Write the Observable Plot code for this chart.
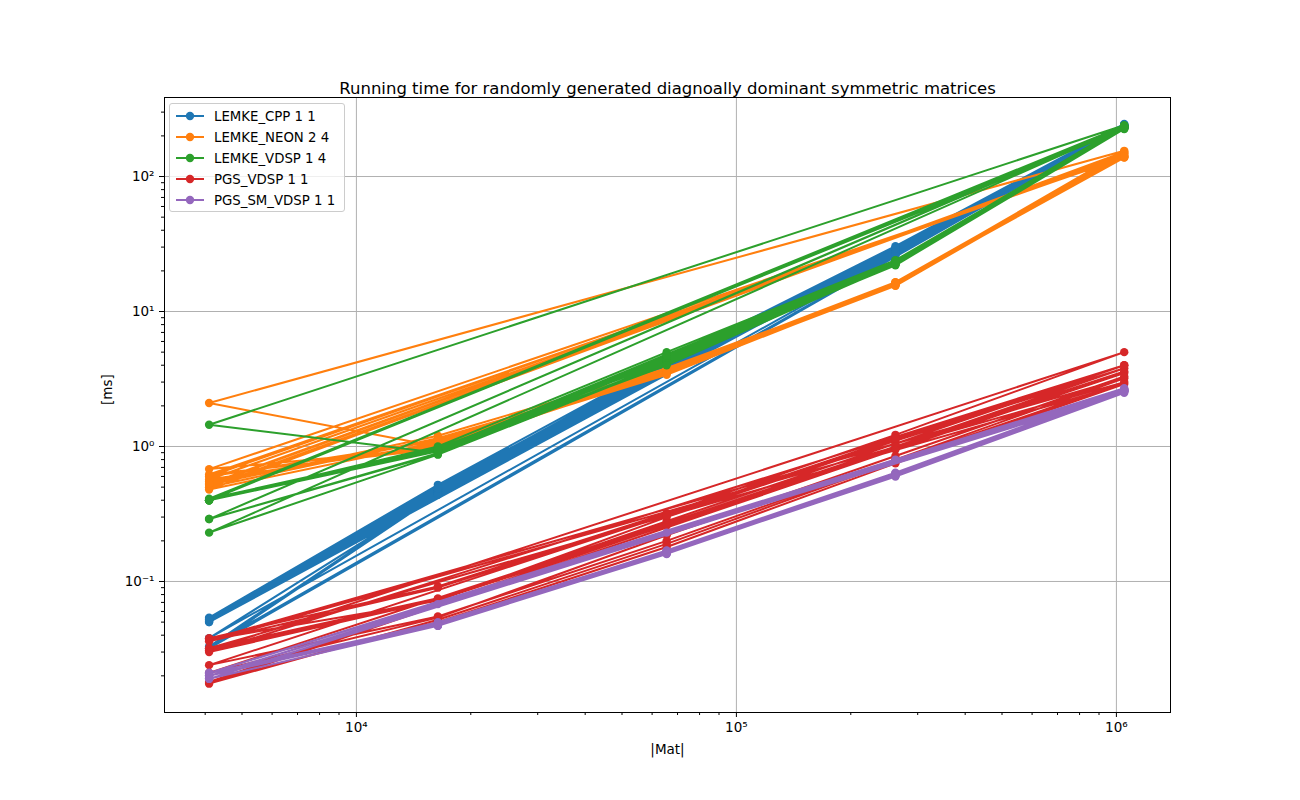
<!DOCTYPE html>
<html>
<head>
<meta charset="utf-8">
<script src="https://cdn.jsdelivr.net/npm/d3@7"></script>
<script src="https://cdn.jsdelivr.net/npm/@observablehq/plot@0.6"></script>
<style>
  html, body { margin: 0; padding: 0; background: white; }
  #wrap { position: relative; width: 1300px; height: 800px; font-family: "DejaVu Sans", sans-serif; }
  #legend { position: absolute; left: 169px; top: 103px; width: 176px; height: 109px; box-sizing: border-box;
            border: 1px solid #cccccc; border-radius: 3px; background: rgba(255,255,255,0.8); }
  .row { position: absolute; left: 0; height: 20px; display: flex; align-items: center; font-size: 13.3px; color: #000; }
  .row svg { margin-left: 6px; margin-right: 10px; }
</style>
</head>
<body>
<div id="wrap"><div id="legend"></div></div>
<script>
const sizes = [4096, 16384, 65536, 262144, 1048576];
const seriesNames = ["LEMKE_CPP 1 1", "LEMKE_NEON 2 4", "LEMKE_VDSP 1 4", "PGS_VDSP 1 1", "PGS_SM_VDSP 1 1"];
const seriesColors = ["#1f77b4", "#ff7f0e", "#2ca02c", "#d62728", "#9467bd"];

// each run: times [ms] at the five sizes (runs are drawn as one continuous polyline per series)
const lemkeCppRuns = [
  [0.054, 0.52, 4.3, 30.5, 245],
  [0.052, 0.48, 4.0, 28.0, 235],
  [0.050, 0.45, 3.8, 27.0, 232],
  [0.051, 0.46, 3.9, 27.5, 238],
  [0.038, 0.44, 3.7, 26.5, 230],
  [0.053, 0.50, 4.1, 29.0, 240],
  [0.033, 0.45, 3.8, 27.0, 233],
  [0.050, 0.47, 4.0, 28.0, 236],
  [0.032, 0.44, 3.6, 26.0, 231],
  [0.052, 0.49, 4.2, 29.5, 242]
];
const lemkeNeonRuns = [
  [0.55, 1.05, 3.6, 16.2, 155],
  [2.10, 1.00, 3.5, 15.8, 142],
  [0.60, 1.10, 3.7, 16.5, 150],
  [0.52, 1.20, 3.8, 16.0, 138],
  [0.68, 0.98, 3.5, 15.5, 145],
  [0.50, 1.15, 3.6, 16.3, 140],
  [0.57, 1.02, 3.4, 15.9, 152],
  [0.48, 1.08, 3.7, 16.1, 139],
  [0.62, 0.96, 3.6, 15.6, 148],
  [0.53, 1.12, 3.5, 16.4, 141]
];
const lemkeVdspRuns = [
  [0.40, 0.92, 4.5, 23.0, 235],
  [0.29, 0.88, 4.2, 22.5, 228],
  [0.40, 0.95, 4.8, 23.5, 240],
  [1.45, 0.90, 4.4, 22.0, 225],
  [0.40, 1.00, 5.0, 24.0, 232],
  [0.23, 0.87, 4.1, 22.3, 238],
  [0.40, 0.93, 4.6, 23.2, 226],
  [0.41, 0.97, 4.3, 22.8, 233],
  [0.29, 0.89, 4.7, 23.8, 230],
  [0.40, 0.94, 4.0, 22.6, 236]
];
const pgsVdspRuns = [
  [0.038, 0.092, 0.32, 1.22, 5.0],
  [0.031, 0.074, 0.28, 1.05, 4.0],
  [0.024, 0.055, 0.20, 0.80, 3.2],
  [0.037, 0.072, 0.30, 1.10, 3.8],
  [0.018, 0.050, 0.18, 0.75, 2.9],
  [0.032, 0.075, 0.27, 1.00, 3.6],
  [0.0175, 0.052, 0.19, 0.78, 3.0],
  [0.036, 0.090, 0.31, 1.15, 4.0],
  [0.030, 0.073, 0.26, 0.95, 3.5],
  [0.021, 0.054, 0.22, 0.85, 3.3]
];
const pgsSmVdspRuns = [
  [0.020, 0.048, 0.165, 0.62, 2.60],
  [0.021, 0.049, 0.170, 0.64, 2.65],
  [0.019, 0.047, 0.160, 0.61, 2.55],
  [0.020, 0.050, 0.168, 0.63, 2.60],
  [0.021, 0.048, 0.163, 0.62, 2.62],
  [0.019, 0.047, 0.162, 0.60, 2.50],
  [0.020, 0.068, 0.230, 0.80, 2.70],
  [0.021, 0.049, 0.166, 0.63, 2.58],
  [0.020, 0.048, 0.164, 0.62, 2.60],
  [0.019, 0.047, 0.161, 0.61, 2.55]
];
const allRuns = [lemkeCppRuns, lemkeNeonRuns, lemkeVdspRuns, pgsVdspRuns, pgsSmVdspRuns];

const titleText = "Running time for randomly generated diagnoally dominant symmetric matrices";
const xLabel = "|Mat|";
const yLabel = "[ms]";
const xMajor = [1e4, 1e5, 1e6];
const yMajor = [1e-1, 1e0, 1e1, 1e2];

const sup = {"-": "⁻", "0": "⁰", "1": "¹", "2": "²", "3": "³", "4": "⁴", "5": "⁵", "6": "⁶", "7": "⁷", "8": "⁸", "9": "⁹"};
const fmtPow = v => "10" + String(Math.round(Math.log10(v))).split("").map(c => sup[c]).join("");

const xDomain = [3126, 1388000];
const yDomain = [0.0107, 385];
function minors(lo, hi) {
  const out = [];
  for (let d = Math.floor(Math.log10(lo)); d <= Math.ceil(Math.log10(hi)); d++) {
    for (let k = 2; k <= 9; k++) {
      const v = k * Math.pow(10, d);
      if (v >= lo && v <= hi) out.push(v);
    }
  }
  return out;
}
const xMinor = minors(...xDomain);
const yMinor = minors(...yDomain);

const seriesMarks = [];
allRuns.forEach((runs, s) => {
  const pts = [];
  runs.forEach((run, r) => run.forEach((t, i) => pts.push({series: seriesNames[s], run: r, x: sizes[i], y: t})));
  seriesMarks.push(Plot.line(pts, {x: "x", y: "y", stroke: seriesColors[s], strokeWidth: 2, curve: "linear"}));
  seriesMarks.push(Plot.dot(pts, {x: "x", y: "y", fill: seriesColors[s], r: 4.2, stroke: "none"}));
});

const chart = Plot.plot({
  width: 1300, height: 800,
  marginLeft: 164, marginRight: 130, marginTop: 97, marginBottom: 88,
  x: {type: "log", domain: xDomain},
  y: {type: "log", domain: yDomain},
  style: {fontFamily: "DejaVu Sans, sans-serif", fontSize: "13px", background: "white", color: "black"},
  marks: [
    Plot.gridX(xMajor, {stroke: "#b0b0b0", strokeOpacity: 1, strokeWidth: 1}),
    Plot.gridY(yMajor, {stroke: "#b0b0b0", strokeOpacity: 1, strokeWidth: 1}),
    ...seriesMarks,
    Plot.frame({stroke: "black", strokeWidth: 1}),
    Plot.axisX(xMajor, {tickFormat: fmtPow, tickSize: 5, tickPadding: 5, fontSize: 13.5, label: null}),
    Plot.axisX(xMinor, {tickFormat: () => "", tickSize: 3, label: null}),
    Plot.axisY(yMajor, {tickFormat: fmtPow, tickSize: 5, tickPadding: 5, fontSize: 13.5, label: null}),
    Plot.axisY(yMinor, {tickFormat: () => "", tickSize: 3, label: null}),
    Plot.text([titleText], {frameAnchor: "top", dy: -15, fontSize: 16.5}),
    Plot.text([xLabel], {frameAnchor: "bottom", dy: 41, fontSize: 13.5}),
    Plot.text([yLabel], {frameAnchor: "left", dx: -57, rotate: -90, fontSize: 13.5})
  ]
});
document.getElementById("wrap").prepend(chart);

const legend = document.getElementById("legend");
seriesNames.forEach((name, i) => {
  const row = document.createElement("div");
  row.className = "row";
  row.style.top = (2 + i * 21) + "px";
  row.innerHTML = `<svg width="28" height="12"><line x1="0" y1="6" x2="28" y2="6" stroke="${seriesColors[i]}" stroke-width="2"/><circle cx="14" cy="6" r="4.2" fill="${seriesColors[i]}"/></svg><span>${name}</span>`;
  legend.appendChild(row);
});
</script>
</body>
</html>
